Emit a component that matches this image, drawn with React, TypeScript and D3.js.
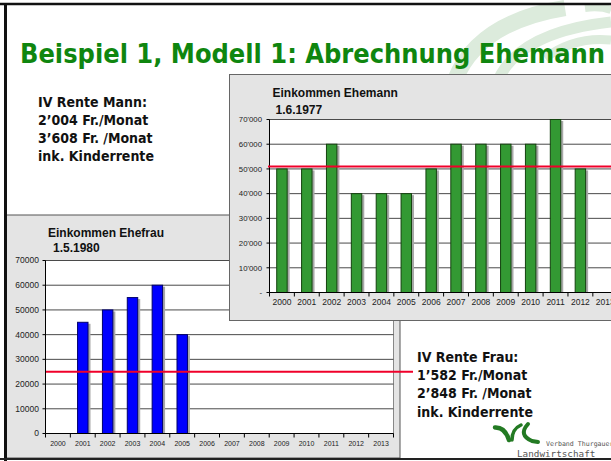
import * as d3 from "d3";

// chart data
const years = ["2000", "2001", "2002", "2003", "2004", "2005", "2006", "2007", "2008", "2009", "2010", "2011", "2012", "2013"];
const ehemannIncome = [50000, 50000, 60000, 40000, 40000, 40000, 50000, 60000, 60000, 60000, 60000, 70000, 50000, null];
const ehefrauIncome = [null, 45000, 50000, 55000, 60000, 40000, null, null, null, null, null, null, null, null];
const incomeTicks = [0, 10000, 20000, 30000, 40000, 50000, 60000, 70000];
const renteMannLine = 51000;
const renteFrauLine = 25000;

const mannText = ["IV Rente Mann:", "2’004 Fr./Monat", "3’608 Fr. /Monat", "ink. Kinderrente"];
const frauText = ["IV Rente Frau:", "1’582 Fr./Monat", "2’848 Fr. /Monat", "ink. Kinderrente"];

const chartFont = "'Liberation Sans', Arial, sans-serif";
const slideFont = "'DejaVu Sans Condensed', 'DejaVu Sans', sans-serif";

const fmtApos = (v: number) => (v === 0 ? "-" : d3.format(",")(v).replace(/,/g, "'"));
const fmtPlain = (v: number) => String(v);

type ChartProps = {
  x0: number; x1: number; yTop: number; yBottom: number;
  values: (number | null)[];
  fill: string; stroke: string;
  fmt: (v: number) => string;
  yLabelX: number; yFont: number; xFont: number; xLabelDy: number;
  rente: number; renteFrom: number; renteTo: number;
};

function BarChart(p: ChartProps) {
  const x = d3.scaleBand<string>().domain(years).range([p.x0, p.x1]).paddingInner(0.58).paddingOuter(0.29);
  const y = d3.scaleLinear().domain([0, 70000]).range([p.yBottom, p.yTop]);
  const step = x.step();
  const bounds = d3.range(years.length + 1).map((i) => p.x0 + i * step);

  return (
    <g fontFamily={chartFont}>
      <rect x={p.x0} y={y(70000)} width={p.x1 - p.x0} height={y(0) - y(70000)} fill="#fff" stroke="#888" />
      {incomeTicks.filter((t) => t > 0).map((t) => (
        <line key={t} x1={p.x0} x2={p.x1} y1={y(t)} y2={y(t)} stroke="#4a4a4a" strokeWidth={1} />
      ))}
      {p.values.map((v, i) =>
        v == null ? null : (
          <g key={years[i]}>
            <rect x={x(years[i])! + 2.5} y={y(v) + 1.5} width={x.bandwidth()} height={y(0) - y(v) - 1.5} fill="#a8a8a8" />
            <rect x={x(years[i])!} y={y(v)} width={x.bandwidth()} height={y(0) - y(v)} fill={p.fill} stroke={p.stroke} strokeWidth={1} />
          </g>
        )
      )}
      <line x1={p.x0} x2={p.x0} y1={y(70000)} y2={y(0)} stroke="#000" />
      <line x1={p.x0} x2={p.x1} y1={y(0)} y2={y(0)} stroke="#000" />
      {incomeTicks.map((t) => (
        <g key={"yt" + t}>
          <line x1={p.x0 - 3} x2={p.x0} y1={y(t)} y2={y(t)} stroke="#000" />
          <text x={p.yLabelX} y={y(t)} dy="0.35em" textAnchor="end" fontSize={p.yFont} fill="#222">
            {p.fmt(t)}
          </text>
        </g>
      ))}
      {bounds.map((b, i) => (
        <line key={"xt" + i} x1={b} x2={b} y1={y(0)} y2={y(0) + 4} stroke="#000" />
      ))}
      {years.map((yr) => (
        <text key={"xl" + yr} x={x(yr)! + x.bandwidth() / 2} y={y(0) + p.xLabelDy} textAnchor="middle" fontSize={p.xFont} fill="#222">
          {yr}
        </text>
      ))}
      <line x1={p.renteFrom} x2={p.renteTo} y1={y(p.rente)} y2={y(p.rente)} stroke="#f0002a" strokeWidth={2} />
    </g>
  );
}

function Logo() {
  return (
    <g>
      <g fill="none" stroke="#237a23" strokeLinecap="round">
        <path d="M495,427.5 Q505,427 509,440" strokeWidth={4.5} />
        <path d="M512,440 Q512,429 521,425" strokeWidth={3.5} />
        <path d="M528,424 Q518,435 532,441 L538,442" strokeWidth={4} />
      </g>
      <text x={546} y={446} fontFamily="'DejaVu Sans Mono', monospace" fontSize={6.6} fill="#555">Verband Thurgauer</text>
      <text x={517} y={457} fontFamily="'DejaVu Sans Mono', monospace" fontSize={9.3} fill="#555">Landwirtschaft</text>
    </g>
  );
}

export default function App() {
  return (
    <svg width={611} height={461} style={{ position: "absolute", left: 0, top: 0, display: "block", background: "#fff" }}>
      {/* faint swoosh in the background, top right */}
      <g fill="none" stroke="#dcebdc">
        <path d="M455,80 Q478,22 565,8" strokeWidth={16} />
        <path d="M498,80 Q520,32 611,22" strokeWidth={11} />
        <path d="M545,58 Q575,36 611,40" strokeWidth={9} />
        <path d="M585,8 Q600,6 611,10" strokeWidth={8} />
      </g>

      <text x={20} y={63} fontFamily={slideFont} fontWeight="bold" fontSize={27} fill="#0f860f" textLength={585} lengthAdjust="spacingAndGlyphs">
        Beispiel 1, Modell 1: Abrechnung Ehemann
      </text>

      <g fontFamily={slideFont} fontWeight="bold" fontSize={14} fill="#111">
        {mannText.map((t, i) => (
          <text key={t} x={38} y={107 + i * 18}>{t}</text>
        ))}
      </g>

      {/* lower panel: Ehefrau */}
      <rect x={6} y={215} width={394} height={243} fill="#e4e4e4" stroke="#555" />
      <text x={48} y={237} fontFamily={chartFont} fontWeight="bold" fontSize={12} fill="#111">Einkommen Ehefrau</text>
      <text x={53} y={252} fontFamily={chartFont} fontWeight="bold" fontSize={12} fill="#111">1.5.1980</text>
      <BarChart x0={45.5} x1={393.5} yTop={260.5} yBottom={433.5} values={ehefrauIncome} fill="#0000ff" stroke="#00006a"
        fmt={fmtPlain} yLabelX={39} yFont={8.5} xFont={7} xLabelDy={12.5}
        rente={renteFrauLine} renteFrom={46} renteTo={413} />

      <g fontFamily={slideFont} fontWeight="bold" fontSize={14} fill="#111">
        {frauText.map((t, i) => (
          <text key={t} x={417} y={362 + i * 18.2}>{t}</text>
        ))}
      </g>

      {/* upper panel: Ehemann */}
      <rect x={229.5} y={74.5} width={400} height={246} fill="#e4e4e4" stroke="#666" />
      <text x={272.5} y={96.5} fontFamily={chartFont} fontWeight="bold" fontSize={12} fill="#111">Einkommen Ehemann</text>
      <text x={275.5} y={114} fontFamily={chartFont} fontWeight="bold" fontSize={12} fill="#111">1.6.1977</text>
      <BarChart x0={269.5} x1={617.7} yTop={119.5} yBottom={292.5} values={ehemannIncome} fill="#339933" stroke="#14420f"
        fmt={fmtApos} yLabelX={262} yFont={7.8} xFont={8.5} xLabelDy={12.5}
        rente={renteMannLine} renteFrom={268} renteTo={611} />

      <Logo />

      {/* slide frame */}
      <line x1={0} x2={611} y1={4} y2={4} stroke="#111" strokeWidth={2.5} />
      <line x1={5.5} x2={5.5} y1={3} y2={461} stroke="#111" strokeWidth={3} />
      <line x1={0} x2={611} y1={459} y2={459} stroke="#222" strokeWidth={2} />
    </svg>
  );
}
